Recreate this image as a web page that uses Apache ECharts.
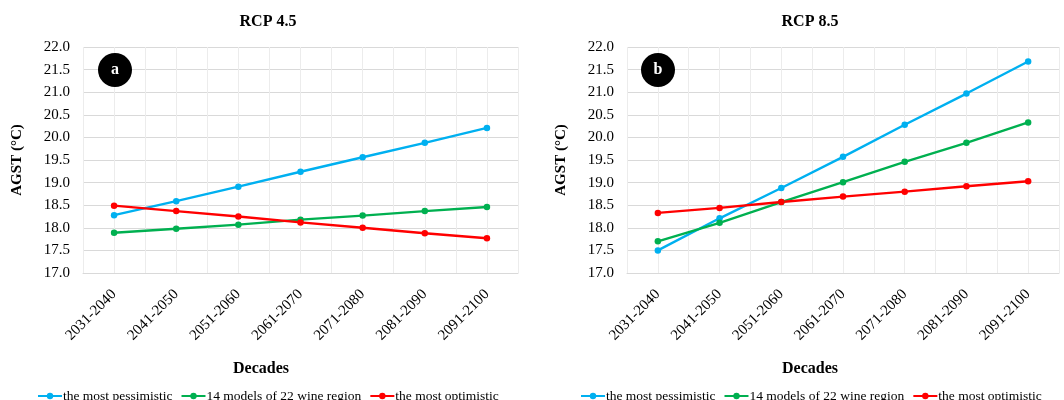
<!DOCTYPE html>
<html>
<head>
<meta charset="utf-8">
<script src="https://cdn.jsdelivr.net/npm/echarts@6/dist/echarts.min.js"></script>
<style>
  html, body { margin: 0; padding: 0; background: #fff; }
  #chart { width: 1064px; height: 400px; }
</style>
</head>
<body>
<div id="chart"></div>
<script>
// Decades on the x axis
const decades = ['2031-2040', '2041-2050', '2051-2060', '2061-2070', '2071-2080', '2081-2090', '2091-2100'];

// Series names
const seriesNames = ['the most pessimistic', '14 models of 22 wine region', 'the most optimistic'];

// RCP 4.5 — AGST (°C)
const rcp45Pessimistic = [18.28, 18.59, 18.91, 19.24, 19.56, 19.88, 20.21];
const rcp45Models      = [17.89, 17.98, 18.07, 18.18, 18.27, 18.37, 18.46];
const rcp45Optimistic  = [18.49, 18.37, 18.25, 18.12, 18.00, 17.88, 17.77];

// RCP 8.5 — AGST (°C)
const rcp85Pessimistic = [17.50, 18.21, 18.88, 19.57, 20.28, 20.97, 21.68];
const rcp85Models      = [17.70, 18.11, 18.57, 19.01, 19.46, 19.88, 20.33];
const rcp85Optimistic  = [18.33, 18.44, 18.57, 18.69, 18.80, 18.92, 19.03];

const panelTitles = ['RCP 4.5', 'RCP 8.5'];
const panelLetters = ['a', 'b'];

const colors = ['#00B0F0', '#00B050', '#FF0000'];
const serif = '"Liberation Serif", "Times New Roman", serif';

// half-category gridline positions (boundaries and centres)
const halfSteps = Array.from({ length: decades.length * 2 + 1 }, (_, i) => String(i));

const grids = [
  { left: 83, top: 47, width: 435, height: 226 },
  { left: 627, top: 47, width: 432, height: 226 }
];

function xAxesFor(g) {
  return [
    {
      type: 'category', gridIndex: g, data: decades, boundaryGap: true,
      axisLine: { show: true, lineStyle: { color: '#d9d9d9', width: 1 } },
      axisTick: { show: false },
      splitLine: { show: false },
      axisLabel: { rotate: 45, margin: 19, interval: 0, color: '#000', fontFamily: serif, fontSize: 15 }
    },
    {
      type: 'category', gridIndex: g, data: halfSteps, boundaryGap: false,
      axisLine: { show: false }, axisTick: { show: false }, axisLabel: { show: false },
      splitLine: { show: true, interval: 0, lineStyle: { color: '#ececec', width: 1 } }
    }
  ];
}

function yAxisFor(g) {
  return {
    type: 'value', gridIndex: g, min: 17, max: 22, interval: 0.5,
    name: 'AGST (°C)', nameLocation: 'middle', nameRotate: 90, nameGap: 58,
    nameTextStyle: { color: '#000', fontFamily: serif, fontSize: 15, fontWeight: 'bold' },
    axisLine: { show: false }, axisTick: { show: false },
    axisLabel: { color: '#000', fontFamily: serif, fontSize: 15, margin: 13,
      formatter: v => v.toFixed(1) },
    splitLine: { show: true, lineStyle: { color: '#d9d9d9', width: 1 } }
  };
}

function lineSeries(name, data, color, g) {
  return {
    name, type: 'line', data,
    xAxisIndex: g * 2, yAxisIndex: g,
    symbol: 'circle', symbolSize: 6.5,
    lineStyle: { color, width: 2.4 },
    itemStyle: { color },
    emphasis: { disabled: true },
    animation: false
  };
}

const panels = [
  [rcp45Pessimistic, rcp45Models, rcp45Optimistic],
  [rcp85Pessimistic, rcp85Models, rcp85Optimistic]
];

const series = [];
panels.forEach((sets, g) => {
  sets.forEach((d, i) => series.push(lineSeries(seriesNames[i], d, colors[i], g)));
});

const legendBase = {
  data: seriesNames, bottom: -3, width: 484, padding: 0,
  itemWidth: 24, itemHeight: 8, itemGap: 8,
  textStyle: { color: '#000', fontFamily: serif, fontSize: 13.5, padding: [0, 0, 0, -4] },
  selectedMode: false
};

const titleCentres = [268, 810];
const decadeCentres = [261, 810];
const letterCentres = [[115, 70], [658, 70]];

const graphic = [];
[0, 1].forEach(g => {
  graphic.push({
    type: 'text', x: titleCentres[g], y: 22,
    style: { text: panelTitles[g], font: 'bold 16px ' + serif, fill: '#000', align: 'center', verticalAlign: 'middle' }
  });
  graphic.push({
    type: 'text', x: decadeCentres[g], y: 369,
    style: { text: 'Decades', font: 'bold 16px ' + serif, fill: '#000', align: 'center', verticalAlign: 'middle' }
  });
  graphic.push({
    type: 'circle', shape: { cx: letterCentres[g][0], cy: letterCentres[g][1], r: 17 },
    style: { fill: '#000' }, z: 10
  });
  graphic.push({
    type: 'text', x: letterCentres[g][0], y: letterCentres[g][1], z: 11,
    style: { text: panelLetters[g], font: 'bold 16px ' + serif, fill: '#fff', align: 'center', verticalAlign: 'middle' }
  });
});

const chart = echarts.init(document.getElementById('chart'), null, { renderer: 'canvas' });
chart.setOption({
  backgroundColor: '#fff',
  animation: false,
  grid: grids,
  xAxis: [...xAxesFor(0), ...xAxesFor(1)],
  yAxis: [yAxisFor(0), yAxisFor(1)],
  legend: [
    Object.assign({}, legendBase, { left: 37 }),
    Object.assign({}, legendBase, { left: 580 })
  ],
  series,
  graphic
});
</script>
</body>
</html>
